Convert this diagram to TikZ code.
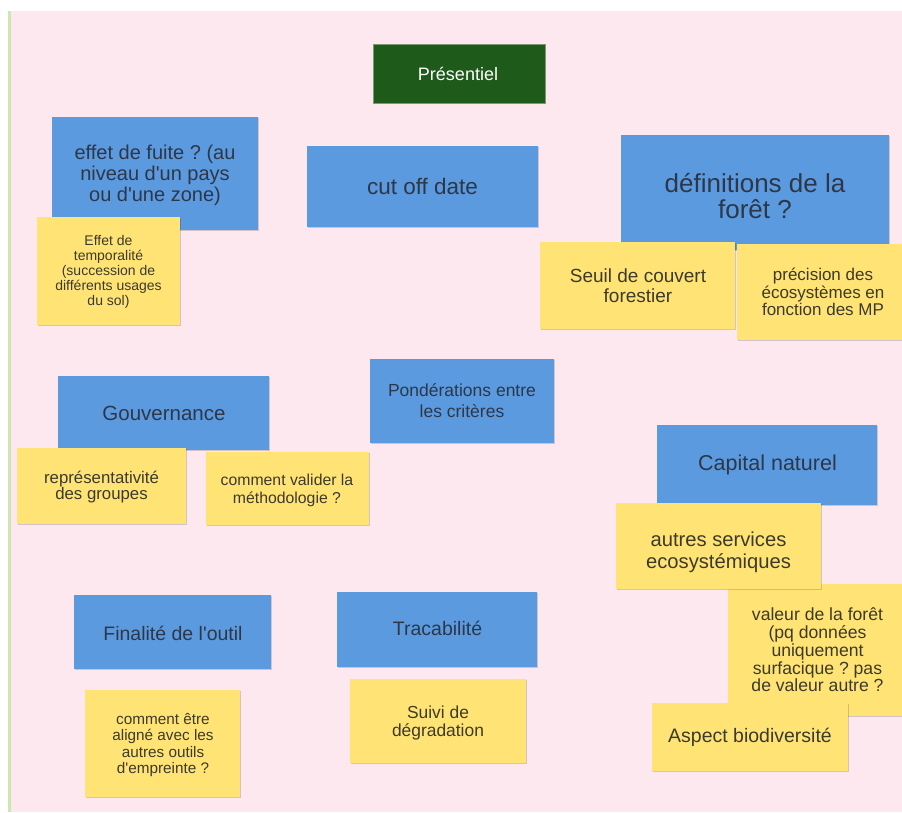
\documentclass[tikz,border=0pt]{standalone}
\usepackage{fontspec}
\setmainfont{Liberation Sans}
\usetikzlibrary{shadows}
\frenchspacing
\definecolor{bgpink}{RGB}{253,232,240}
\definecolor{leftline}{RGB}{205,232,175}
\definecolor{cardblue}{RGB}{91,154,223}
\definecolor{cardyellow}{RGB}{255,228,117}
\definecolor{cardgreen}{RGB}{30,90,26}
\definecolor{greenedge}{RGB}{125,150,115}
\definecolor{bluetext}{RGB}{45,55,72}
\definecolor{yellowtext}{RGB}{60,58,45}
\newcommand{\fsz}[2]{\fontsize{#1}{#2}\selectfont}
\newcommand{\aq}{\textquotesingle}
\begin{document}
\begin{tikzpicture}[x=1pt,y=-1pt,
  card/.style={rectangle, inner sep=0pt, outer sep=0pt,
    drop shadow={shadow xshift=0.6pt, shadow yshift=-1.3pt, opacity=0.16, fill=black}},
  bluecard/.style={card, fill=cardblue},
  yellowcard/.style={card, fill=cardyellow},
  greencard/.style={card, fill=cardgreen, draw=greenedge, line width=0.8pt},
  btxt/.style={align=center, inner sep=0pt, text=bluetext},
  ytxt/.style={align=center, inner sep=0pt, text=yellowtext},
  wtxt/.style={align=center, inner sep=0pt, text=white}]
\clip (0,0) rectangle (902,812);
\useasboundingbox (0,0) rectangle (902,812);
\fill[white] (0,0) rectangle (902,812);
\fill[bgpink] (11,11) rectangle (902,812);
\fill[leftline] (7.5,11) rectangle (11,812);

% header
\node[greencard, minimum width=172, minimum height=59] (pres) at (459,73.5) {};
\node[wtxt, font=\fsz{18}{20}] (pres-t) at (458,73.5) {Présentiel};

% blue cards
\node[bluecard, minimum width=231, minimum height=81] (cut) at (422.5,186.5) {};
\node[btxt, font=\fsz{22.5}{24}] (cut-t) at (422.5,186) {cut off date};

\node[bluecard, minimum width=206, minimum height=113] (fuite) at (155,173.5) {};
\node[btxt, font=\fsz{20}{21}] (fuite-t) at (155,175) {effet de fuite ? (au\\niveau d\aq un pays\\ou d\aq une zone)};

\node[bluecard, minimum width=268, minimum height=115] (defs) at (755,192.5) {};
\node[btxt, font=\fsz{26}{26}] (defs-t) at (755,196) {définitions de la\\forêt ?};

\node[bluecard, minimum width=211, minimum height=74] (gouv) at (163.5,413) {};
\node[btxt, font=\fsz{20.5}{22}] (gouv-t) at (164,413) {Gouvernance};

\node[bluecard, minimum width=184, minimum height=84] (ponder) at (462,401) {};
\node[btxt, font=\fsz{17.5}{21}] (ponder-t) at (462,401) {Pondérations entre\\les critères};

\node[bluecard, minimum width=220, minimum height=80] (capital) at (767,465) {};
\node[btxt, font=\fsz{21.5}{23}] (capital-t) at (767.5,464.5) {Capital naturel};

\node[bluecard, minimum width=197, minimum height=74] (finalite) at (172.5,632) {};
\node[btxt, font=\fsz{19.5}{21}] (finalite-t) at (173,633) {Finalité de l\aq outil};

\node[bluecard, minimum width=200, minimum height=75] (trac) at (437,629.5) {};
\node[btxt, font=\fsz{19.5}{21}] (trac-t) at (437.5,628) {Tracabilité};

% yellow cards
\node[yellowcard, minimum width=143, minimum height=108] (temp) at (108.5,271) {};
\node[ytxt, font=\fsz{14}{15}] (temp-t) at (108.5,272) {Effet de\\temporalité\\(succession de\\différents usages\\du sol)};

\node[yellowcard, minimum width=195, minimum height=87] (seuil) at (637.5,285.5) {};
\node[ytxt, font=\fsz{19}{19.5}] (seuil-t) at (638,285.5) {Seuil de couvert\\forestier};

\node[yellowcard, minimum width=172, minimum height=96] (precis) at (823,292) {};
\node[ytxt, font=\fsz{17}{17.5}] (precis-t) at (823,292) {précision des\\écosystèmes en\\fonction des MP};

\node[yellowcard, minimum width=169, minimum height=76] (repr) at (101.5,486) {};
\node[ytxt, font=\fsz{16.8}{16}] (repr-t) at (101.5,487) {représentativité\\des groupes};

\node[yellowcard, minimum width=163, minimum height=73] (valider) at (287.5,488.5) {};
\node[ytxt, font=\fsz{15.8}{18}] (valider-t) at (287,490) {comment valider la\\méthodologie ?};

\node[yellowcard, minimum width=179, minimum height=132] (valeur) at (817.5,650) {};
\node[ytxt, font=\fsz{17.6}{17.8}] (valeur-t) at (817.5,650) {valeur de la forêt\\(pq données\\uniquement\\surfacique ? pas\\de valeur autre ?};

\node[yellowcard, minimum width=205, minimum height=86] (autres) at (718.5,546) {};
\node[ytxt, font=\fsz{20.2}{22}] (autres-t) at (718.5,552) {autres services\\ecosystémiques};

\node[yellowcard, minimum width=196, minimum height=68] (aspect) at (750,737) {};
\node[ytxt, font=\fsz{19.5}{21}] (aspect-t) at (750,737) {Aspect biodiversité};

\node[yellowcard, minimum width=155, minimum height=107] (align) at (162.5,743.5) {};
\node[ytxt, font=\fsz{15.3}{16.5}] (align-t) at (163,745) {comment être\\aligné avec les\\autres outils\\d\aq empreinte ?};

\node[yellowcard, minimum width=176, minimum height=84] (suivi) at (438,721) {};
\node[ytxt, font=\fsz{17.4}{18.5}] (suivi-t) at (438,723) {Suivi de\\dégradation};
\end{tikzpicture}
\end{document}
